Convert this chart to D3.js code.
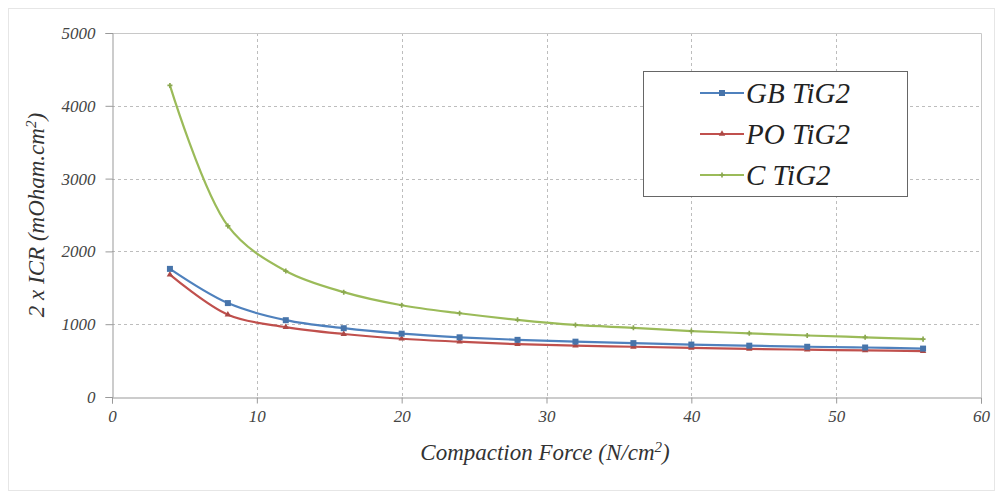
<!DOCTYPE html>
<html lang="en">
  <head>
    <meta charset="UTF-8" />
    <title>ICR vs compaction force</title>
    <style>
      body {
        margin: 0;
        background: white;
      }
      svg text {
        font-family: "Liberation Serif", "Times New Roman", Times, "DejaVu Serif", serif !important;
        font-style: italic;
      }
      .tick-label {
        font-size: 17px;
        fill: #444;
      }
      .axis-title {
        font-size: 23px;
        fill: #333;
      }
      .grid-lines {
        stroke: #bdbdbd;
        stroke-dasharray: 3, 3;
      }
      .line-path {
        fill: none;
        stroke-width: 2.2;
      }
    </style>
  </head>
  <body>
    <script src="https://d3js.org/d3.v7.min.js"></script>
    <script>
      // compaction force (N/cm2)
      const forces = [4, 8, 12, 16, 20, 24, 28, 32, 36, 40, 44, 48, 52, 56];
      const gbValues = [1760, 1290, 1055, 945, 870, 820, 785, 760, 740, 720, 705, 690, 680, 665];
      const poValues = [1680, 1130, 960, 865, 800, 760, 725, 705, 690, 675, 660, 650, 640, 630];
      const cValues = [4280, 2350, 1730, 1440, 1260, 1150, 1060, 990, 950, 905, 875, 845, 820, 795];
      const seriesNames = ["GB TiG2", "PO TiG2", "C TiG2"];
      const xTicks = [0, 10, 20, 30, 40, 50, 60];
      const yTicks = [0, 1000, 2000, 3000, 4000, 5000];

      const width = 1002;
      const height = 498;

      const svg = d3
        .select("body")
        .append("svg")
        .attr("width", width)
        .attr("height", height);

      const xScale = d3.scaleLinear().domain([0, 60]).range([112, 981]);
      const yScale = d3.scaleLinear().domain([0, 5000]).range([397, 33]);

      const colors = ["#4f81bd", "#c0504d", "#9bbb59"];
      const series = [gbValues, poValues, cValues].map((vals, i) => ({
        name: seriesNames[i],
        color: colors[i],
        values: vals.map((v, j) => ({ x: forces[j], y: v })),
      }));

      // outer frame
      svg
        .append("rect")
        .attr("x", 8.5)
        .attr("y", 8.5)
        .attr("width", 986)
        .attr("height", 482)
        .attr("fill", "none")
        .attr("stroke", "#e6e6e6");

      // grid
      const grid = svg.append("g").attr("class", "grid-lines");
      grid
        .selectAll(".gy")
        .data(yTicks.filter((d) => d > 0 && d < 5000))
        .join("line")
        .attr("x1", xScale(0))
        .attr("x2", xScale(60))
        .attr("y1", (d) => Math.round(yScale(d)) + 0.5)
        .attr("y2", (d) => Math.round(yScale(d)) + 0.5);
      grid
        .selectAll(".gx")
        .data(xTicks.filter((d) => d > 0 && d < 60))
        .join("line")
        .attr("y1", yScale(5000))
        .attr("y2", yScale(0))
        .attr("x1", (d) => Math.round(xScale(d)) + 0.5)
        .attr("x2", (d) => Math.round(xScale(d)) + 0.5);

      // plot border (top / right)
      svg
        .append("path")
        .attr(
          "d",
          `M${xScale(0)},${yScale(5000) + 0.5}H${xScale(60) + 0.5}V${yScale(0)}`
        )
        .attr("fill", "none")
        .attr("stroke", "#c8c8c8");

      // axes
      const xAxis = svg
        .append("g")
        .attr("transform", `translate(0, ${yScale(0) + 0.5})`)
        .call(
          d3.axisBottom(xScale).tickValues(xTicks).tickFormat(d3.format("d")).tickSize(6).tickPadding(6)
        );
      const yAxis = svg
        .append("g")
        .attr("transform", `translate(${xScale(0) + 0.5}, 0)`)
        .call(
          d3.axisLeft(yScale).tickValues(yTicks).tickFormat(d3.format("d")).tickSize(7).tickPadding(10)
        );

      [xAxis, yAxis].forEach((ax) => {
        ax.attr("font-family", null).attr("font-size", null);
        ax.select(".domain").attr("stroke", "#999");
        ax.selectAll(".tick line").attr("stroke", "#999");
        ax.selectAll(".tick text").attr("class", "tick-label").attr("fill", null);
      });

      // axis titles
      svg
        .append("text")
        .attr("class", "axis-title")
        .attr("x", 545)
        .attr("y", 460)
        .attr("text-anchor", "middle")
        .text("Compaction Force (N/cm")
        .append("tspan")
        .attr("dy", -8)
        .attr("font-size", 15)
        .text("2")
        .clone()
        .attr("dy", 8)
        .attr("font-size", 23)
        .text(")");

      svg
        .append("text")
        .attr("class", "axis-title")
        .attr("transform", "translate(44, 215) rotate(-90)")
        .attr("text-anchor", "middle")
        .text("2 x ICR (mOham.cm")
        .append("tspan")
        .attr("dy", -8)
        .attr("font-size", 15)
        .text("2")
        .clone()
        .attr("dy", 8)
        .attr("font-size", 23)
        .text(")");

      // lines
      const line = d3
        .line()
        .x((d) => xScale(d.x))
        .y((d) => yScale(d.y))
        .curve(d3.curveCatmullRom.alpha(0.5));

      const symbolFor = [d3.symbolSquare, d3.symbolTriangle, d3.symbolCross];
      const symbolSize = [36, 18, 14];

      const groups = svg
        .append("g")
        .selectAll("g")
        .data(series.slice().reverse())
        .join("g");

      groups
        .append("path")
        .attr("class", "line-path")
        .attr("stroke", (d) => d.color)
        .attr("d", (d) => line(d.values));

      groups.each(function (s) {
        const i = series.indexOf(s);
        d3.select(this)
          .selectAll("path.mark")
          .data(s.values)
          .join("path")
          .attr("class", "mark")
          .attr("transform", (d) => `translate(${xScale(d.x)}, ${yScale(d.y)})`)
          .attr("d", d3.symbol(symbolFor[i], symbolSize[i]))
          .attr("fill", d3.color(s.color).darker(0.3));
      });

      // legend
      const legend = svg.append("g");
      legend
        .append("rect")
        .attr("x", 643.5)
        .attr("y", 71.5)
        .attr("width", 264)
        .attr("height", 125)
        .attr("fill", "white")
        .attr("stroke", "#666");

      const items = legend
        .selectAll(".item")
        .data(series)
        .join("g")
        .attr("transform", (d, i) => `translate(700, ${93 + i * 41})`);

      items
        .append("line")
        .attr("x1", 0)
        .attr("x2", 44)
        .attr("stroke", (d) => d.color)
        .attr("stroke-width", 2.2);
      items
        .append("path")
        .attr("transform", "translate(22, 0)")
        .attr("d", (d, i) => d3.symbol(symbolFor[i], symbolSize[i])())
        .attr("fill", (d) => d3.color(d.color).darker(0.3));
      items
        .append("text")
        .attr("x", 46)
        .attr("dy", "0.35em")
        .attr("font-size", 29)
        .attr("fill", "#222")
        .text((d) => d.name);
    </script>
  </body>
</html>
